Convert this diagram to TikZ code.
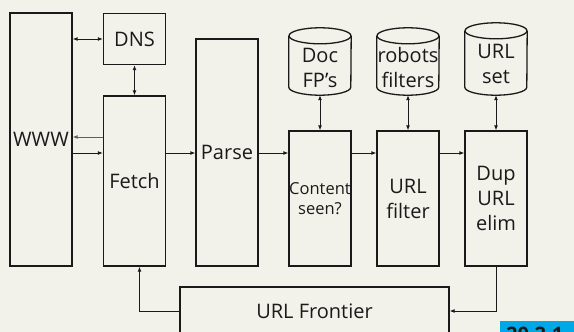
\documentclass[tikz,border=0pt]{standalone}
\usepackage{fontspec}
\setmainfont{Open Sans}
\usetikzlibrary{arrows.meta,calc}
\definecolor{paper}{HTML}{F2F1EA}
\definecolor{ink}{HTML}{1A1A1A}
\definecolor{tag}{HTML}{00A8E8}
\tikzset{
  box/.style={draw=ink, line width=1.3pt, rectangle, inner sep=0pt,
    align=center, font=\fontsize{20}{25}\selectfont, text=ink},
  store/.style={rectangle, inner sep=0pt, align=center,
    font=\fontsize{20}{25}\selectfont, text=ink},
  link/.style={draw=ink, line width=0.9pt, -{Latex[length=5pt,width=4pt]}},
  biglink/.style={draw=ink, line width=0.9pt, {Latex[length=5pt,width=4pt]}-{Latex[length=5pt,width=4pt]}},
}
% outline of a storage drum: name of the covering node
\newcommand\drumoutline[1]{%
  \draw[ink, line width=1.3pt]
    ($(#1.north)+(0,8)$) ellipse [x radius=31pt, y radius=8pt];
  \draw[ink, line width=1.3pt]
    ($(#1.north west)+(0,8)$) -- ($(#1.south west)+(0,-8)$)
    arc[start angle=180, end angle=360, x radius=31pt, y radius=8pt]
    -- ($(#1.north east)+(0,8)$);
}
\begin{document}
\begin{tikzpicture}[x=1pt, y=-1pt]
  \clip (0,0) rectangle (574,332);
  \fill[paper] (0,0) rectangle (574,332);

  % main processing boxes
  \node[box, minimum width=62pt, minimum height=253pt] (www) at (41,139.5) {WWW};
  \node[box, minimum width=62pt, minimum height=51pt] (dns) at (134.5,39) {DNS};
  \node[box, minimum width=62pt, minimum height=170pt] (fetch) at (134.5,181) {Fetch};
  \node[box, minimum width=62pt, minimum height=227pt] (parse) at (227,152.5) {Parse};
  \node[box, minimum width=62pt, minimum height=135pt, font=\fontsize{16.5}{20}\selectfont] (seen) at (320,198.5) {Content\\seen?};
  \node[box, minimum width=62pt, minimum height=135pt] (filter) at (408,198.5) {URL\\filter};
  \node[box, minimum width=62pt, minimum height=135pt] (dup) at (496,198.5) {Dup\\URL\\elim};
  \node[box, minimum width=269pt, minimum height=48pt] (frontier) at (314.5,311) {URL Frontier};

  % storage drums
  \node[store, minimum width=62pt, minimum height=67pt] (doc) at (320,61.5) {};
  \drumoutline{doc}
  \node[store] at (320,67.5) {Doc\\FP’s};
  \node[store, minimum width=62pt, minimum height=67pt] (robots) at (408,61.5) {};
  \drumoutline{robots}
  \node[store] at (408,67.5) {robots\\filters};
  \node[store, minimum width=62pt, minimum height=72pt] (urlset) at (496,59) {};
  \drumoutline{urlset}
  \node[store] at (496,64) {URL\\set};

  % connectors
  \draw[biglink] (www.east |- dns.west) -- (dns.west);
  \draw[biglink] (dns.south) -- (fetch.north);
  \draw[link, draw=ink!70] (fetch.west |- 0,137) -- (www.east |- 0,137);
  \draw[link] (www.east |- 0,153) -- (fetch.west |- 0,153);
  \draw[link] (fetch.east |- 0,153) -- (parse.west |- 0,153);
  \draw[link] (parse.east |- 0,153) -- (seen.west |- 0,153);
  \draw[link] (seen.east |- 0,153) -- (filter.west |- 0,153);
  \draw[link] (filter.east |- 0,153) -- (dup.west |- 0,153);
  \draw[biglink] (doc.south) -- (seen.north);
  \draw[biglink] (robots.south) -- (filter.north);
  \draw[biglink] (urlset.south) -- (dup.north);
  \draw[link] (dup.south) |- (frontier.east);
  \draw[link] (frontier.west) -| ([xshift=5pt]fetch.south);

  % section tag in the corner
  \fill[tag] (500,321) rectangle (580,340);
  \node[anchor=north west, inner sep=0pt, font=\fontsize{20}{24}\selectfont\bfseries, text=ink] (tagtext) at (506,326.5) {20.2.1};
\end{tikzpicture}
\end{document}
